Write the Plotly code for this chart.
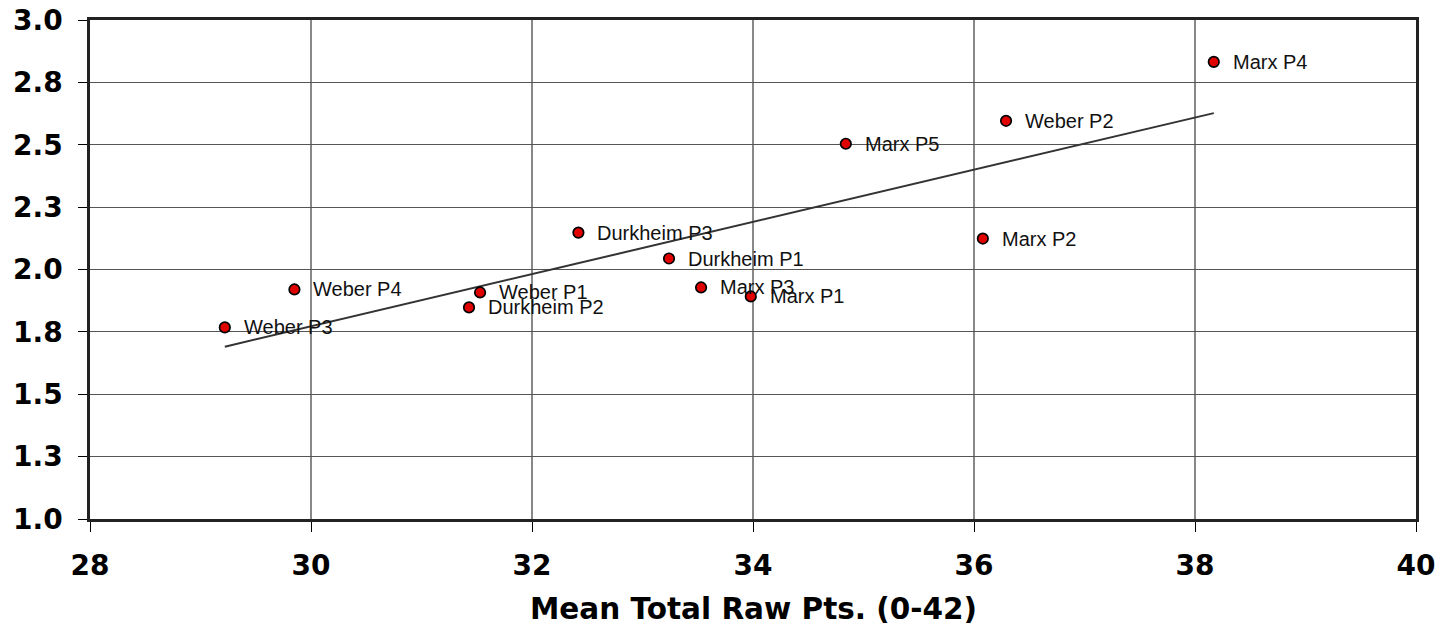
import numpy as np
import plotly.graph_objects as go

labels = ["Weber P3", "Weber P4", "Durkheim P2", "Weber P1", "Durkheim P3", "Durkheim P1",
          "Marx P3", "Marx P1", "Marx P5", "Marx P2", "Weber P2", "Marx P4"]
mean_raw_pts = [29.22, 29.85, 31.43, 31.53, 32.42, 33.24, 33.53, 33.98, 34.84, 36.08, 36.29, 38.17]
score = [1.768, 1.920, 1.848, 1.908, 2.148, 2.044, 1.928, 1.892, 2.504, 2.124, 2.596, 2.832]

x_ticks = [28, 30, 32, 34, 36, 38, 40]
y_ticks = [1.0, 1.25, 1.5, 1.75, 2.0, 2.25, 2.5, 2.75, 3.0]
y_tick_text = ["1.0", "1.3", "1.5", "1.8", "2.0", "2.3", "2.5", "2.8", "3.0"]
x_title = "Mean Total Raw Pts. (0-42)"

xs = np.array(mean_raw_pts)
ys = np.array(score)
slope, intercept = np.polyfit(xs, ys, 1)
trend_x = np.array([xs.min(), xs.max()])
trend_y = slope * trend_x + intercept

fig = go.Figure()
fig.add_trace(go.Scatter(x=trend_x, y=trend_y, mode="lines",
                         line=dict(color="#333333", width=2), hoverinfo="skip", showlegend=False))
fig.add_trace(go.Scatter(x=mean_raw_pts, y=score, mode="markers",
                         marker=dict(size=10.5, color="#E00000", line=dict(color="black", width=1.7)),
                         showlegend=False))

for lab, xv, yv in zip(labels, mean_raw_pts, score):
    fig.add_annotation(x=xv, y=yv, text=lab, showarrow=False, xanchor="left", yanchor="middle",
                       xshift=17, yshift=0,
                       font=dict(family="Liberation Sans, Arial", size=20, color="#111111"))

fig.add_annotation(x=0.5, y=-0.18, xref="paper", yref="paper", text="<b>" + x_title + "</b>",
                   showarrow=False, xanchor="center", yanchor="middle",
                   font=dict(family="DejaVu Sans", size=29.5, color="black"))

fig.update_layout(
    width=1447, height=626,
    margin=dict(l=82, r=39, t=12, b=115),
    paper_bgcolor="white", plot_bgcolor="white",
    xaxis=dict(range=[28, 40], tickvals=x_ticks, showgrid=True, gridcolor="#888888", gridwidth=1.5,
               showline=True, mirror=True, linecolor="#222222", linewidth=2.5, ticks="outside",
               ticklen=10, tickcolor="black", tickwidth=1, zeroline=False, automargin=False,
               ticklabelstandoff=10, ticklabeloverflow="allow",
               tickfont=dict(family="DejaVu Sans", size=28, color="black", weight="bold")),
    yaxis=dict(range=[1, 3], tickvals=y_ticks, ticktext=y_tick_text, showgrid=True,
               gridcolor="#555555", gridwidth=1.2,
               showline=True, mirror=True, linecolor="#222222", linewidth=2.5, ticks="outside",
               ticklen=9, tickcolor="black", tickwidth=1, zeroline=False, automargin=False,
               ticklabelstandoff=10, ticklabeloverflow="allow",
               tickfont=dict(family="DejaVu Sans", size=28, color="black", weight="bold")),
)

fig.write_html("out.html")
